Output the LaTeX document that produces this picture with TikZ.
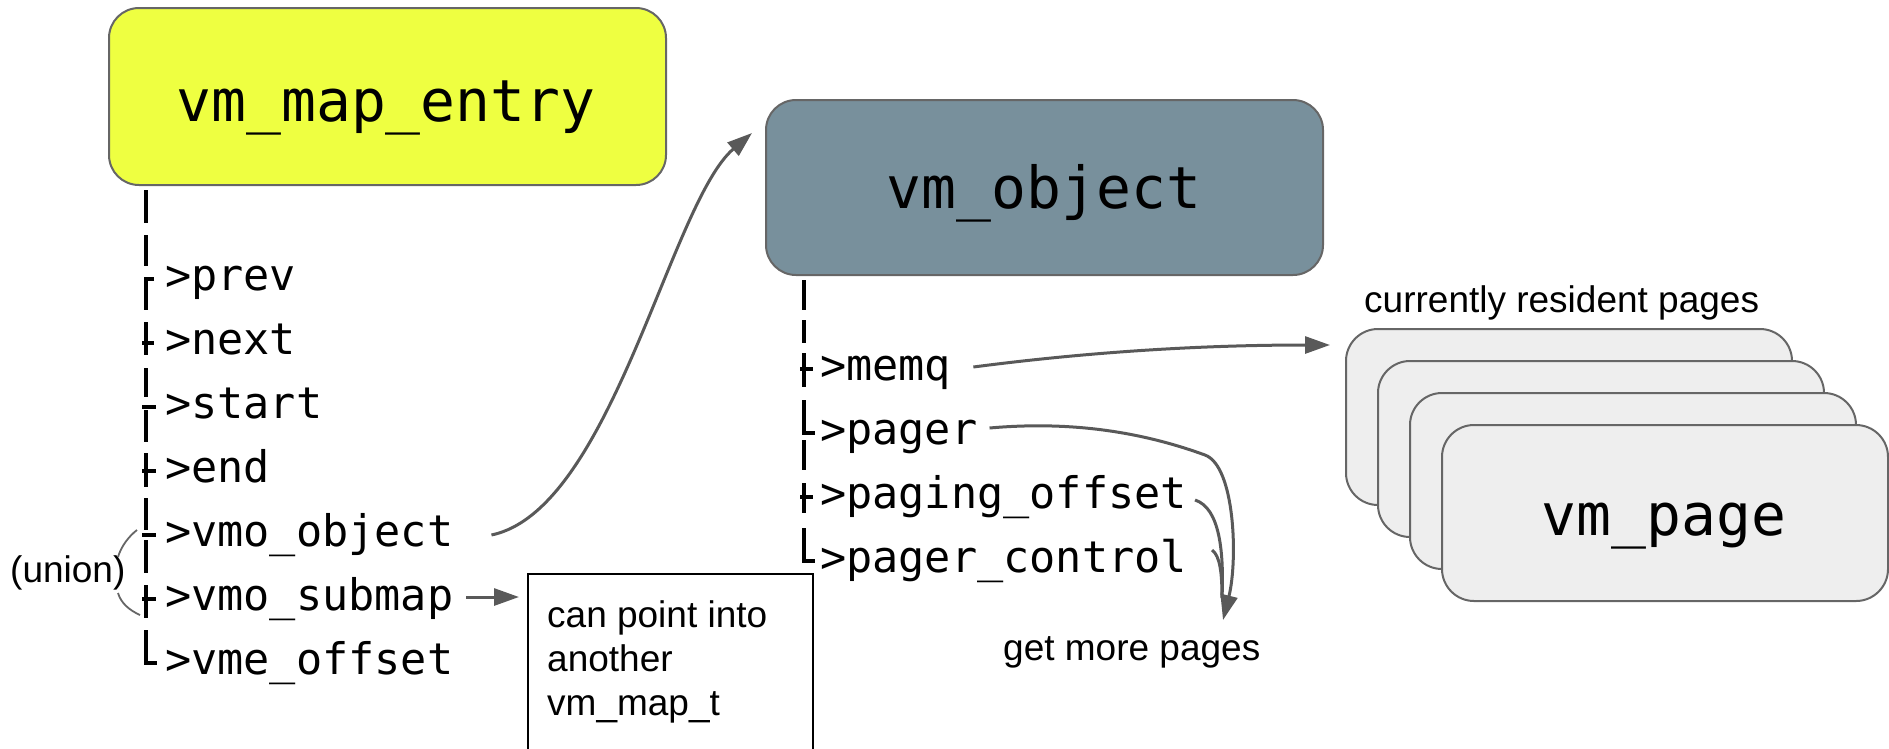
\documentclass[tikz,border=0pt]{standalone}
\usepackage{fontspec}
\setmainfont{Liberation Sans}
\newfontfamily\codefont{DejaVu Sans Mono}
\usetikzlibrary{arrows.meta,calc}

\definecolor{entryyellow}{HTML}{EEFF41}
\definecolor{objslate}{HTML}{78909C}
\definecolor{pagefill}{HTML}{EEEEEE}
\definecolor{edgegray}{HTML}{666666}
\definecolor{arrowgray}{HTML}{595959}

\tikzset{
  structbox/.style={draw=edgegray, line width=2pt, rounded corners=30pt, inner sep=0pt, anchor=north west},
  titletext/.style={anchor=base, inner sep=0pt, font=\codefont\fontsize{58}{60}\selectfont},
  field/.style={anchor=base west, inner sep=0pt, text height=32pt, text depth=10pt,
                font=\codefont\fontsize{43.5}{48}\selectfont},
  remark/.style={inner sep=0pt, font=\fontsize{37}{44}\selectfont},
  tree/.style={line width=3.6pt, black},
  ptr/.style={draw=arrowgray, line width=3pt, -{Triangle[length=25pt,width=17pt]}},
  feed/.style={draw=arrowgray, line width=3pt},
  bracearc/.style={draw=edgegray, line width=1.8pt},
}

\begin{document}
\begin{tikzpicture}[x=1pt,y=-1pt]
\useasboundingbox (0,0) rectangle (1889,748);
\clip (0,0) rectangle (1889,748);

% structure boxes
\node[structbox, fill=entryyellow, minimum width=557pt, minimum height=177pt] (entrybox) at (108,7) {};
\node[titletext] (entrylabel) at (386,121) {vm\_map\_entry};

\node[structbox, fill=objslate, minimum width=557pt, minimum height=175pt] (objbox) at (765,99) {};
\node[titletext] (objlabel) at (1044,208) {vm\_object};

% stack of resident pages, back to front
\foreach \i in {0,...,3}
  \node[structbox, rounded corners=32pt, fill=pagefill, minimum width=446pt, minimum height=176pt]
    (page\i) at (1345+32*\i, 328+32*\i) {};
\node[titletext] (pagelabel) at (1664,535) {vm\_page};

% fields of vm_map_entry
\node[field] (fprev)   at (165,290) {>prev};
\node[field] (fnext)   at (165,354) {>next};
\node[field] (fstart)  at (165,418) {>start};
\node[field] (fend)    at (165,482) {>end};
\node[field] (fvmoobj) at (165,546) {>vmo\_object};
\node[field] (fvmosub) at (165,610) {>vmo\_submap};
\node[field] (fvmeoff) at (165,674) {>vme\_offset};

% fields of vm_object
\node[field] (fmemq)  at (820,380) {>memq};
\node[field] (fpager) at (820,444) {>pager};
\node[field] (fpgoff) at (820,508) {>paging\_offset};
\node[field] (fpgctl) at (820,572) {>pager\_control};

% tree rules, left column
\draw[tree] (146,190) -- (146,223) (146,235) -- (146,266)
  (154,279) -- (146,279) -- (146,310)
  (146,322) -- (146,355) (142,343) -- (154,343)
  (146,368) -- (146,397) (142,407) -- (156,407) (146,410) -- (146,442)
  (146,453) -- (146,487) (142,471) -- (156,471)
  (146,498) -- (146,530) (142,535) -- (156,535) (146,540) -- (146,573)
  (146,585) -- (146,618) (142,599) -- (156,599)
  (146,630) -- (146,663) -- (157,663);

% tree rules, right column
\draw[tree] (804,280) -- (804,310) (804,320) -- (804,343)
  (804,353) -- (804,387) (800,369) -- (813,369)
  (804,400) -- (804,433) -- (815,433)
  (804,440) -- (804,470)
  (804,483) -- (804,513) (800,497) -- (813,497)
  (804,528) -- (804,561) -- (815,561);

% notes
\node[remark, anchor=base west] (unionlabel) at (10,582) {(union)};
\node[remark, anchor=base west] (residentlabel) at (1364,312) {currently resident pages};
\node[remark, anchor=base west] (morelabel) at (1003,660) {get more pages};

\node[draw=black, line width=2pt, minimum width=285pt, minimum height=220pt, anchor=north west, inner sep=0pt]
  (notebox) at (527,573) {};
\node[remark, anchor=north west, align=left] (notelabel) at (547,600) {can point into\\another\\vm\_map\_t};

% union bracket
\draw[bracearc] ($(fvmoobj.west)+(-28,-5)$) .. controls +(-9,7) and +(3,-10) .. ($(fvmoobj.west)+(-47,22)$);
\draw[bracearc] ($(fvmosub.west)+(-47,-6)$) .. controls +(3,10) and +(-11,-5) .. ($(fvmosub.west)+(-25,16)$);

% pointers
\draw[ptr] ($(fvmoobj.east)+(38,0)$) .. controls +(120,-25) and +(-82,70) .. ($(objbox.north west)+(-13,34)$);
\draw[ptr] ($(fvmosub.east)+(13,-2)$) -- ($(notebox.north west)+(-8,24)$);
\draw[ptr] ($(fmemq.east)+(22,-2)$) .. controls +(115,-15) and +(-130,0) .. ($(page0.north west)+(-15,17)$);

\coordinate (moretip) at (1223,620);
\coordinate (pagerbend) at (1205,455);
\draw[ptr] ($(fpager.east)+(12,-5)$) .. controls +(90,-8) and +(-55,-20) .. (pagerbend)
  .. controls +(30,11) and +(15,-60) .. (moretip);
\draw[feed] ($(fpgoff.east)+(8,3)$) .. controls +(25,8) and +(2,-45) .. ($(moretip)+(-1,-22)$);
\draw[feed] ($(fpgctl.east)+(25,-11)$) .. controls +(8,6) and +(0,-25) .. ($(moretip)+(-1,-22)$);
\end{tikzpicture}
\end{document}
